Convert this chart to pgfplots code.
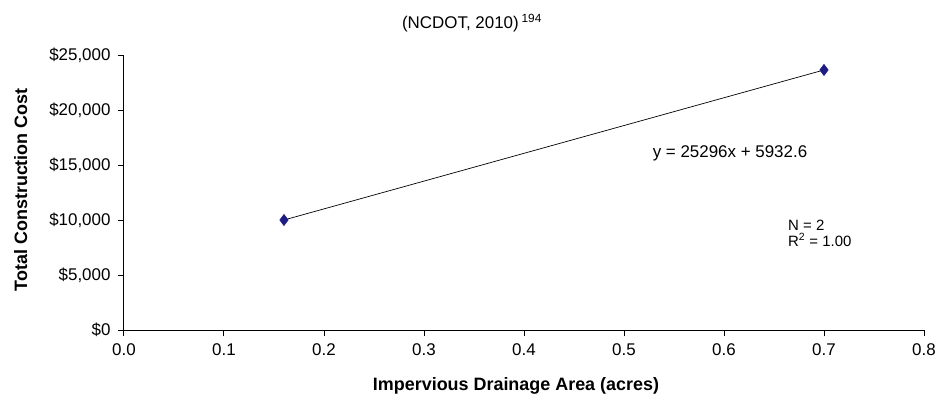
\documentclass[border=0pt]{standalone}
\usepackage{pgfplots}
\pgfplotsset{compat=1.18}
\usepackage{fontspec}
\setmainfont{Liberation Sans}
\definecolor{marknavy}{HTML}{1C1C84}

\begin{document}
\begin{tikzpicture}
\path[use as bounding box] (-124bp,-70bp) rectangle (812bp,330bp);
\begin{axis}[
    at={(0,0)}, anchor=south west,
    scale only axis,
    width=800bp, height=275bp,
    xmin=0, xmax=0.8,
    ymin=0, ymax=25000,
    scaled y ticks=false,
    scaled x ticks=false,
    axis lines*=left,
    axis line style={line width=1pt},
    tick style={line width=1pt, black},
    tick align=outside,
    major tick length=6bp,
    xtick={0,0.1,0.2,0.3,0.4,0.5,0.6,0.7,0.8},
    xticklabels={0.0,0.1,0.2,0.3,0.4,0.5,0.6,0.7,0.8},
    ytick={0,5000,10000,15000,20000,25000},
    yticklabels={\$0,{\$5,000},{\$10,000},{\$15,000},{\$20,000},{\$25,000}},
    /pgf/number format/assume math mode=true,
    ticklabel style={font=\fontsize{17}{20}\selectfont},
    xticklabel style={yshift=-4bp},
    yticklabel style={xshift=-4bp},
    xlabel={Impervious Drainage Area (acres)},
    ylabel={Total Construction Cost},
    label style={font=\bfseries\fontsize{18}{21}\selectfont},
    xlabel style={at={(axis description cs:0.49,-0.2036)}, anchor=center},
    ylabel style={at={(axis description cs:-0.129,0.51)}, anchor=center},
    clip=false,
]
\addplot[black, line width=0.7pt, mark=diamond*, mark size=5.5bp,
    mark options={marknavy, draw=marknavy, fill=marknavy}] coordinates {
    (0.16,10000)
    (0.70,23640)
};
\node[font=\fontsize{17}{20}\selectfont] at (axis cs:0.606,16090) {y = 25296x + 5932.6};
\node[font=\fontsize{15}{16}\selectfont, anchor=west, align=left, inner sep=0pt]
    at (axis cs:0.664,8820) {N = 2\\R\textsuperscript{2} = 1.00};
\node[font=\fontsize{17}{20}\selectfont] at (axis description cs:0.435,1.116)
    {(NCDOT, 2010)\,\textsuperscript{194}};
\end{axis}
\end{tikzpicture}
\end{document}
